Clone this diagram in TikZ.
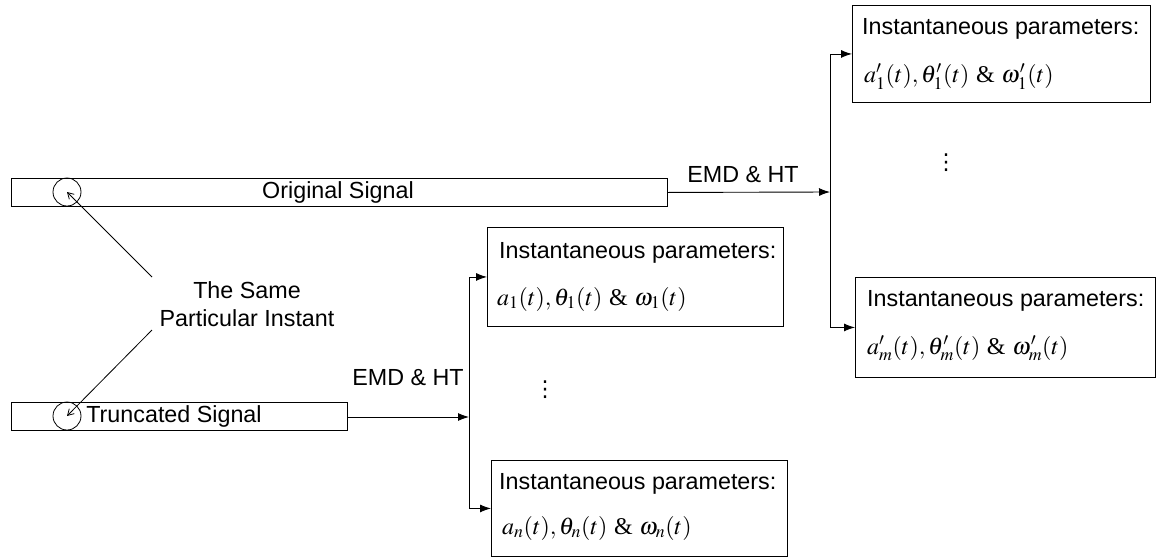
\documentclass[tikz,border=0pt]{standalone}
\usepackage{mathptmx}
\usepackage[no-math]{fontspec}
\setmainfont{Liberation Sans}
\newfontfamily\tms{Liberation Serif}
\newfontfamily\djv{DejaVu Sans}
\usetikzlibrary{arrows.meta}
\begin{document}
\begin{tikzpicture}[x=1pt,y=-1pt,
  lbl/.style={font=\fontsize{23.3}{28}\selectfont, inner sep=0pt},
  frm/.style={font=\fontsize{24}{28}\selectfont, inner sep=0pt},
  dts/.style={font=\djv\fontsize{22}{26}\selectfont, inner sep=0pt},
  box/.style={draw, line width=0.9pt, inner sep=0pt, anchor=north west},
  sig/.style={draw, line width=0.9pt, inner sep=0pt, anchor=north west, minimum height=28pt},
  ring/.style={draw, circle, line width=0.8pt, minimum size=28pt, inner sep=0pt},
  arr/.style={line width=0.9pt, -{Latex[length=11pt,width=8pt]}},
  ptr/.style={line width=0.8pt, -{Straight Barb[length=6pt,width=7pt]}},
  ln/.style={line width=0.9pt}]
\useasboundingbox (0,0) rectangle (1157,557);
% signal bars
\node[sig, minimum width=656pt] (orig) at (11,178) {};
\node[lbl] (origt) at (338,192) {Original Signal};
\node[sig, minimum width=336pt] (trunc) at (11,402) {};
\node[lbl] (trunct) at (174,416) {Truncated Signal};
\node[ring] (c1) at (67,192) {};
\node[ring] (c2) at (67,416) {};
% instant label
\node[lbl, align=center] (inst) at (247,304) {The Same\\Particular Instant};
\coordinate (s1) at (152,277);
\coordinate (s2) at (152,330);
\draw[ptr] (s1) -- (c1.center);
\draw[ptr] (s2) -- (c2.center);
% upper branch
\node[box, minimum width=298pt, minimum height=97pt] (p1) at (852,5) {};
\node[lbl, anchor=west] (p1a) at (862,29) {Instantaneous parameters:};
\node[frm, anchor=west] (p1b) at (864,77) {$a_1^{\prime}(t), \theta_1^{\prime}(t)$ {\tms\&} $\omega_1^{\prime}(t)$};
\node[box, minimum width=300pt, minimum height=100pt] (pm) at (855,277) {};
\node[lbl, anchor=west] (pma) at (867,301) {Instantaneous parameters:};
\node[frm, anchor=west] (pmb) at (867,348) {$a_m^{\prime}(t), \theta_m^{\prime}(t)$ {\tms\&} $\omega_m^{\prime}(t)$};
\node[dts] (pdots) at (946,163) {⋮};
\coordinate (jA) at (830,192);
\node[lbl] (emdA) at (743,175) {EMD \& HT};
\draw[arr] (orig.east) -- (jA);
\draw[arr] (jA) |- (p1.west);
\draw[arr] (jA) |- (pm.west);
% lower branch
\node[box, minimum width=296pt, minimum height=99pt] (q1) at (487,227) {};
\node[lbl, anchor=west] (q1a) at (499,253) {Instantaneous parameters:};
\node[frm, anchor=west] (q1b) at (497,299) {$a_1(t), \theta_1(t)$ {\tms\&} $\omega_1(t)$};
\node[box, minimum width=296pt, minimum height=96pt] (qn) at (491,460) {};
\node[lbl, anchor=west] (qna) at (499,484) {Instantaneous parameters:};
\node[frm, anchor=west] (qnb) at (502,528) {$a_n(t), \theta_n(t)$ {\tms\&} $\omega_n(t)$};
\node[dts] (qdots) at (545,390) {⋮};
\coordinate (jB) at (469,417);
\node[lbl] (emdB) at (408,378) {EMD \& HT};
\draw[arr] (trunc.east |- jB) -- (jB);
\draw[arr] (jB) |- (q1.west);
\draw[arr] (jB) |- (qn.west);
\end{tikzpicture}
\end{document}
